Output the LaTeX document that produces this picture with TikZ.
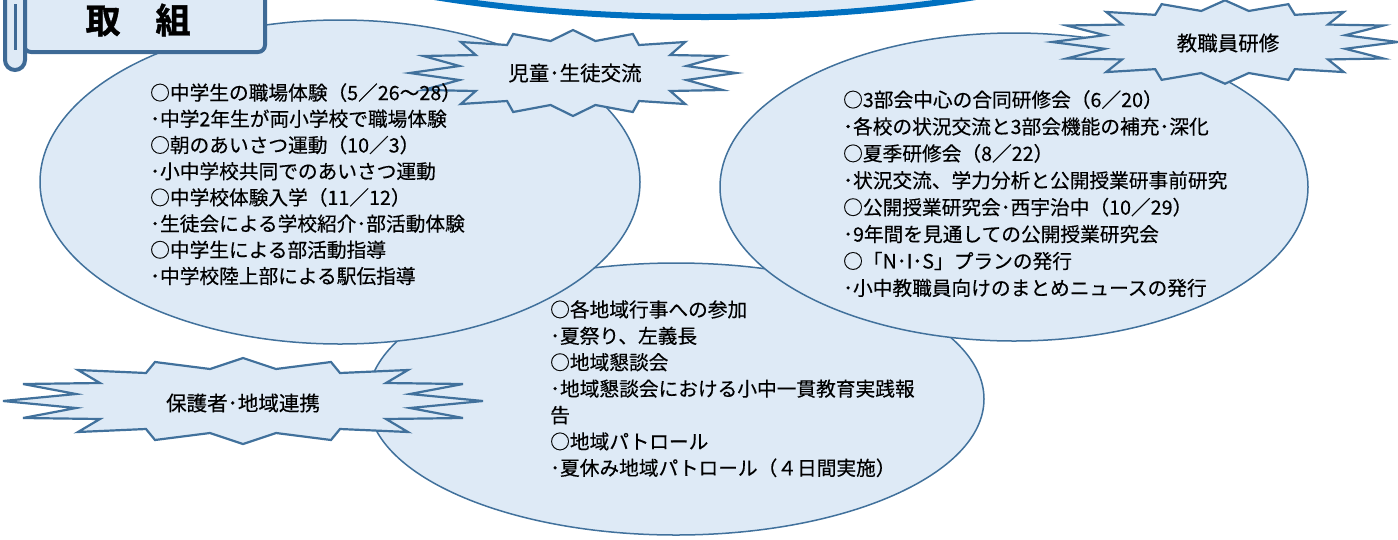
\documentclass[tikz,border=0pt]{standalone}
\usepackage{fontspec}
\setmainfont{Noto Sans CJK JP}
\newfontfamily\bodyfont{Noto Sans CJK JP}[FakeBold=0.35]
\newfontfamily\titlefont{Noto Sans CJK JP Bold}[FakeBold=1.2]
\definecolor{fillb}{RGB}{222,234,246}
\definecolor{edge}{RGB}{65,113,156}
\definecolor{topb}{RGB}{0,112,192}
\definecolor{titleb}{RGB}{62,106,150}
\newcommand\burstpath{(0,-43) -- (33,-32) -- (88,-39) -- (97,-28) -- (165,-31) -- (143,-18) -- (220,-17) -- (167,-7) -- (240,0) -- (167,7) -- (220,17) -- (143,18) -- (165,31) -- (97,28) -- (88,39) -- (33,32) -- (0,43) -- (-33,32) -- (-88,39) -- (-97,28) -- (-165,31) -- (-143,18) -- (-220,17) -- (-167,7) -- (-240,0) -- (-167,-7) -- (-220,-17) -- (-143,-18) -- (-165,-31) -- (-97,-28) -- (-88,-39) -- (-33,-32) -- cycle}
\tikzset{
  bubble/.style={draw=edge, fill=fillb, line width=1.5pt},
  burst/.style={draw=edge, fill=fillb, line width=2.2pt, line join=miter},
  body/.style={inner sep=0pt, anchor=north west, align=left, text=black},
  blabel/.style={inner sep=0pt, text=black, font=\bodyfont\fontsize{20.5}{24}\selectfont},
}
\begin{document}
\begin{tikzpicture}[x=1pt,y=-1pt]
\useasboundingbox (0,0) rectangle (1398,539);
\begin{scope}
\clip (0,0) rectangle (1398,539);
% top ellipse (cut off)
\draw[line width=6pt, draw=topb, fill=fillb] (705,-120) ellipse [x radius=520, y radius=137];
% bubbles
\draw[bubble] (676,399) ellipse [x radius=308, y radius=136];
\draw[bubble] (340,182) ellipse [x radius=300, y radius=162];
\draw[bubble] (1014,187) ellipse [x radius=294, y radius=154];
% bursts
\begin{scope}[shift={(573,73)}, xscale=0.68]
  \draw[burst] \burstpath;
\end{scope}
\begin{scope}[shift={(1225,42)}, xscale=0.72, yscale=0.97]
  \draw[burst] \burstpath;
\end{scope}
\begin{scope}[shift={(243,401)}]
  \draw[burst] \burstpath;
\end{scope}
% title scroll
\draw[line width=4pt, draw=titleb, fill=fillb, rounded corners=7pt] (24,-20) rectangle (265,52);
\draw[line width=4pt, draw=titleb, fill=fillb] (5,-20) -- (5,60) arc[start angle=180, end angle=0, radius=10] -- (25,-20);
\draw[line width=3pt, draw=titleb] (15,4) -- (15,50);
\end{scope}
\node[inner sep=0pt, font=\titlefont\fontsize{35}{40}\selectfont] (title) at (138,20) {取　組};
\node[blabel] (kodomo) at (575,73) {児童･生徒交流};
\node[blabel] (kyoshoku) at (1228,43) {教職員研修};
\node[blabel] (chiiki) at (243,403) {保護者･地域連携};
\node[body, font=\bodyfont\fontsize{19.7}{26.2}\selectfont] (tl) at (150,83) {○中学生の職場体験（5／26〜28）\\･中学2年生が両小学校で職場体験\\○朝のあいさつ運動（10／3）\\･小中学校共同でのあいさつ運動\\○中学校体験入学（11／12）\\･生徒会による学校紹介･部活動体験\\○中学生による部活動指導\\･中学校陸上部による駅伝指導};
\node[body, font=\bodyfont\fontsize{19.7}{26.9}\selectfont] (tr) at (843,90) {○3部会中心の合同研修会（6／20）\\･各校の状況交流と3部会機能の補充･深化\\○夏季研修会（8／22）\\･状況交流、学力分析と公開授業研事前研究\\○公開授業研究会･西宇治中（10／29）\\･9年間を見通しての公開授業研究会\\○「N･I･S」プランの発行\\･小中教職員向けのまとめニュースの発行};
\node[body, font=\bodyfont\fontsize{19.7}{26.4}\selectfont] (tb) at (550,300) {○各地域行事への参加\\･夏祭り、左義長\\○地域懇談会\\･地域懇談会における小中一貫教育実践報\\告\\○地域パトロール\\･夏休み地域パトロール（４日間実施）};
\end{tikzpicture}
\end{document}
